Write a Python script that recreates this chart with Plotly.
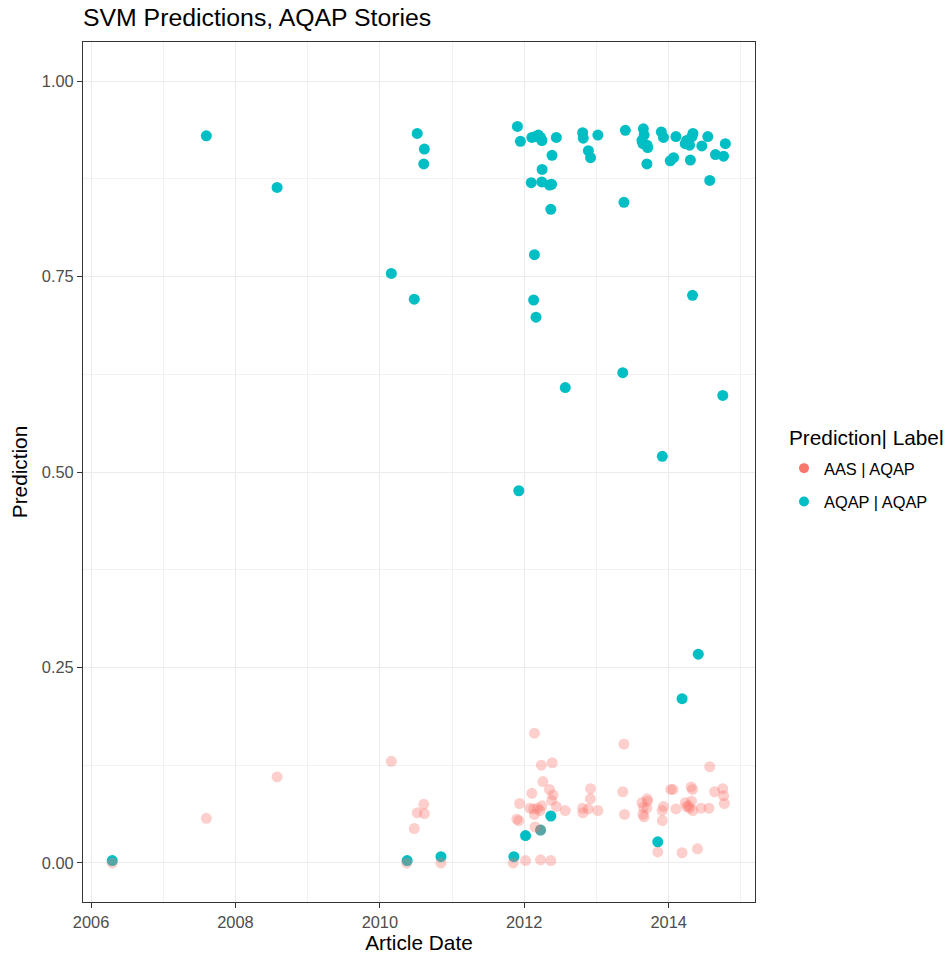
import plotly.graph_objects as go

# AQAP | AQAP (teal)
aqap_dates = [
    "2006-04-18", "2007-08-07", "2008-07-30", "2010-02-28", "2010-06-24", "2010-07-09",
    "2010-08-14", "2010-08-11", "2010-05-19", "2010-11-06", "2011-11-10", "2011-12-05",
    "2011-11-28", "2011-12-13", "2012-02-09", "2012-02-27", "2012-03-13", "2012-03-24",
    "2012-03-31", "2012-06-12", "2012-05-21", "2012-04-01", "2012-02-06", "2012-03-30",
    "2012-05-08", "2012-05-19", "2012-05-15", "2012-10-23", "2012-10-26", "2013-01-08",
    "2012-11-21", "2012-12-02", "2013-05-27", "2013-05-20", "2013-08-26", "2013-08-30",
    "2013-08-19", "2013-08-24", "2013-09-14", "2013-09-17", "2013-09-13", "2013-11-25",
    "2013-12-06", "2014-02-07", "2014-01-09", "2014-01-26", "2014-03-26", "2014-04-02",
    "2014-04-12", "2014-04-17", "2014-04-29", "2014-05-04", "2014-04-21", "2014-06-18",
    "2014-07-18", "2014-07-28", "2014-08-26", "2014-10-06", "2014-10-15", "2012-02-22",
    "2012-02-18", "2012-03-01", "2012-07-27", "2013-05-14", "2014-05-02", "2014-10-02",
    "2013-11-30", "2014-05-31", "2014-03-10", "2012-01-08", "2012-03-24", "2012-05-15",
    "2013-11-07",
]
aqap_pred = [
    0.003, 0.930, 0.864, 0.754, 0.721, 0.933,
    0.913, 0.894, 0.003, 0.008, 0.008, 0.476,
    0.942, 0.923, 0.928, 0.929, 0.931, 0.928,
    0.924, 0.928, 0.905, 0.887, 0.870, 0.871,
    0.867, 0.868, 0.836, 0.934, 0.927, 0.931,
    0.911, 0.902, 0.937, 0.845, 0.939, 0.931,
    0.924, 0.920, 0.918, 0.915, 0.894, 0.935,
    0.928, 0.929, 0.898, 0.902, 0.920, 0.924,
    0.922, 0.918, 0.929, 0.933, 0.899, 0.917,
    0.929, 0.873, 0.906, 0.904, 0.920, 0.778,
    0.720, 0.698, 0.608, 0.627, 0.726, 0.598,
    0.520, 0.267, 0.210, 0.035, 0.042, 0.060,
    0.027,
]

# AAS | AQAP (red, translucent)
aas_dates = [
    "2006-04-18", "2007-08-07", "2008-07-30", "2010-02-28", "2010-08-11", "2010-07-09",
    "2010-08-14", "2010-06-24", "2010-05-17", "2010-11-06", "2012-02-22", "2013-05-20",
    "2012-03-28", "2012-05-22", "2014-07-28", "2012-04-05", "2012-02-09", "2012-05-08",
    "2012-05-26", "2012-05-19", "2011-12-09", "2012-01-30", "2012-02-18", "2012-03-10",
    "2012-03-31", "2012-02-22", "2012-03-21", "2012-06-12", "2012-07-27", "2011-11-25",
    "2011-12-05", "2012-02-25", "2012-03-24", "2011-11-07", "2012-01-08", "2012-03-24",
    "2012-05-15", "2012-12-02", "2012-12-01", "2012-10-23", "2012-11-21", "2013-01-08",
    "2012-10-24", "2013-05-14", "2013-05-23", "2013-08-19", "2013-09-14", "2013-09-17",
    "2013-08-26", "2013-09-13", "2013-08-24", "2013-08-30", "2013-11-29", "2013-12-06",
    "2013-11-30", "2014-01-12", "2014-01-23", "2014-02-07", "2014-03-26", "2014-04-12",
    "2014-04-27", "2014-04-17", "2014-05-04", "2014-04-02", "2014-04-25", "2014-05-02",
    "2014-06-14", "2014-07-24", "2014-08-22", "2014-10-02", "2014-10-06", "2014-10-10",
    "2013-11-07", "2014-03-10", "2014-05-27",
]
aas_pred = [
    0.000, 0.057, 0.110, 0.130, 0.075, 0.064,
    0.063, 0.044, 0.000, 0.000, 0.166, 0.152,
    0.125, 0.128, 0.123, 0.104, 0.089, 0.094,
    0.087, 0.080, 0.076, 0.070, 0.069, 0.070,
    0.073, 0.062, 0.067, 0.072, 0.067, 0.056,
    0.054, 0.046, 0.042, 0.000, 0.003, 0.004,
    0.003, 0.095, 0.082, 0.070, 0.069, 0.067,
    0.064, 0.091, 0.062, 0.077, 0.082, 0.079,
    0.071, 0.070, 0.062, 0.059, 0.067, 0.072,
    0.054, 0.094, 0.094, 0.069, 0.077, 0.073,
    0.079, 0.070, 0.067, 0.072, 0.097, 0.094,
    0.070, 0.070, 0.091, 0.095, 0.086, 0.076,
    0.014, 0.013, 0.018,
]

legend_title = "Prediction| Label"
legend_labels = ["AAS | AQAP", "AQAP | AQAP"]
RED = "#F8766D"
TEAL = "#00BFC4"
FONT = "Liberation Sans, Arial, sans-serif"

fig = go.Figure()
fig.add_trace(go.Scatter(x=aqap_dates, y=aqap_pred, mode="markers",
                         marker=dict(color=TEAL, size=11, line=dict(width=0)),
                         showlegend=False, hoverinfo="x+y"))
fig.add_trace(go.Scatter(x=aas_dates, y=aas_pred, mode="markers",
                         marker=dict(color=RED, size=11, opacity=0.35, line=dict(width=0)),
                         showlegend=False, hoverinfo="x+y"))
# legend entries (opaque keys like ggplot's guide)
for lab, col in zip(legend_labels, [RED, TEAL]):
    fig.add_trace(go.Scatter(x=[None], y=[None], mode="markers", name=lab,
                             legendgroup=lab,
                             marker=dict(color=col, size=10, line=dict(width=0))))

fig.update_layout(
    width=948, height=957,
    margin=dict(l=83, r=193, t=42, b=55, autoexpand=False),
    paper_bgcolor="white", plot_bgcolor="white",
    font=dict(family=FONT, color="#000000"),
    title=dict(text="SVM Predictions, AQAP Stories", x=83 / 948, xanchor="left",
               y=1 - 17 / 957, yanchor="middle", font=dict(size=24.8, color="#000000")),
    legend=dict(font=dict(size=16.4, color="#000000"),
                xref="container", yref="container",
                x=784 / 948, xanchor="left", y=1 - 451 / 957, yanchor="top",
                tracegroupgap=9, bgcolor="rgba(0,0,0,0)"),
    annotations=[dict(text=legend_title, xref="paper", yref="paper",
                      x=(787 - 83) / 672, y=(902 - 437) / 860,
                      xanchor="left", yanchor="middle", showarrow=False,
                      font=dict(size=20.8, color="#000000"))],
)
fig.update_xaxes(
    type="date", range=["2005-11-21", "2015-03-14"], automargin=False,
    tick0="2006-01-01", dtick="M24", tickformat="%Y",
    showgrid=True, gridcolor="#EBEBEB", gridwidth=1.1,
    minor=dict(dtick="M12", showgrid=True, gridcolor="#F2F2F2", gridwidth=0.6),
    ticks="outside", ticklen=5, tickcolor="#333333", tickwidth=1,
    tickfont=dict(size=16.4, color="#4D4D4D"),
    showline=True, linecolor="#333333", linewidth=1, mirror=True, zeroline=False,
    title=dict(text="Article Date", font=dict(size=20.8, color="#000000"), standoff=4),
)
fig.update_yaxes(
    range=[-0.05, 1.05], tickvals=[0, 0.25, 0.5, 0.75, 1.0], automargin=False,
    ticktext=["0.00", "0.25", "0.50", "0.75", "1.00"],
    showgrid=True, gridcolor="#EBEBEB", gridwidth=1.1,
    minor=dict(tickvals=[0.125, 0.375, 0.625, 0.875], showgrid=True,
               gridcolor="#F2F2F2", gridwidth=0.6),
    ticks="outside", ticklen=5, tickcolor="#333333", tickwidth=1,
    tickfont=dict(size=16.4, color="#4D4D4D"),
    showline=True, linecolor="#333333", linewidth=1, mirror=True, zeroline=False,
    title=dict(text="Prediction", font=dict(size=20.8, color="#000000"), standoff=8),
)

fig.write_html("out.html")
